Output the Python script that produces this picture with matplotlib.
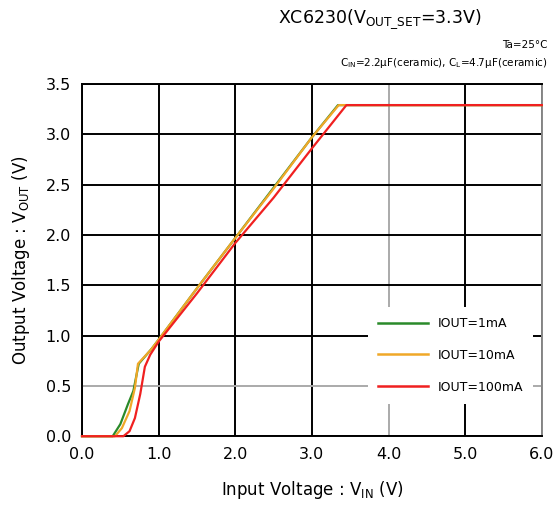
import numpy as np
import matplotlib.pyplot as plt

# measured Vout vs Vin for three load currents
vin_1mA = [0.0, 0.40, 0.50, 0.60, 0.67, 0.74, 0.91, 1.0, 1.5, 2.0, 2.5, 3.0, 3.34, 6.0]
vout_1mA = [0.0, 0.0, 0.12, 0.32, 0.45, 0.72, 0.87, 0.96, 1.47, 1.97, 2.47, 2.97, 3.29, 3.29]
vin_10mA = [0.0, 0.43, 0.52, 0.62, 0.69, 0.73, 0.90, 1.0, 1.5, 2.0, 2.5, 3.0, 3.35, 6.0]
vout_10mA = [0.0, 0.0, 0.08, 0.25, 0.48, 0.72, 0.86, 0.96, 1.47, 1.97, 2.46, 2.97, 3.29, 3.29]
vin_100mA = [0.0, 0.54, 0.62, 0.69, 0.76, 0.82, 0.89, 1.0, 1.5, 2.0, 2.5, 3.0, 3.45, 6.0]
vout_100mA = [0.0, 0.0, 0.05, 0.18, 0.42, 0.69, 0.81, 0.94, 1.42, 1.92, 2.37, 2.86, 3.29, 3.29]

labels = ['IOUT=1mA', 'IOUT=10mA', 'IOUT=100mA']
xticks = [0, 1, 2, 3, 4, 5, 6]
yticks = [0, 0.5, 1.0, 1.5, 2.0, 2.5, 3.0, 3.5]

plt.rcParams['font.family'] = ['DejaVu Sans']
fig = plt.figure(figsize=(5.58, 5.12), dpi=100)
ax = fig.add_axes([0.147, 0.148, 0.824, 0.688])

ax.plot(vin_1mA, vout_1mA, color='#2a8a2a', lw=1.6, label=labels[0], clip_on=False, zorder=4)
ax.plot(vin_10mA, vout_10mA, color='#f0a828', lw=1.6, label=labels[1], clip_on=False, zorder=4)
ax.plot(vin_100mA, vout_100mA, color='#f02020', lw=1.6, label=labels[2], clip_on=False, zorder=4)

ax.set_xlim(0, 6)
ax.set_ylim(0, 3.5)
ax.set_xticks(xticks)
ax.set_yticks(yticks)
ax.set_xticklabels(['%.1f' % v for v in xticks], fontsize=11.5)
ax.set_yticklabels(['%.1f' % v for v in yticks], fontsize=11.5)
ax.tick_params(length=0, pad=8)
ax.grid(True, color='black', lw=1.4)
ax.set_axisbelow(True)
for gl, v in zip(ax.get_xgridlines(), xticks):
    if v == 4:
        gl.set_color('#aaaaaa')
for gl, v in zip(ax.get_ygridlines(), yticks):
    if v == 0.5:
        gl.set_color('#aaaaaa')
for s in ax.spines.values():
    s.set_linewidth(1.4)
ax.spines['right'].set_color('#888888')

ax.set_xlabel('Input Voltage : V$_{\\mathregular{IN}}$ (V)', fontsize=12, labelpad=12)
ax.set_ylabel('Output Voltage : V$_{\\mathregular{OUT}}$ (V)', fontsize=12, labelpad=10)

leg = ax.legend(loc='lower right', bbox_to_anchor=(0.995, 0.075), frameon=True,
                fontsize=9, handlelength=4, labelspacing=1.5, borderpad=0.8)
leg.get_frame().set_edgecolor('none')
leg.get_frame().set_facecolor('white')
leg.get_frame().set_alpha(1)
leg.set_zorder(5)
for ln in leg.get_lines():
    ln.set_linewidth(1.8)

fig.text(0.68, 0.962, 'XC6230(V$_{\\mathregular{OUT\\_SET}}$=3.3V)', fontsize=12.5,
         ha='center', va='center')
fig.text(0.982, 0.913, 'Ta=25°C', fontsize=7.5, ha='right', va='center')
fig.text(0.982, 0.877, 'C$_{\\mathregular{IN}}$=2.2μF(ceramic), C$_{\\mathregular{L}}$=4.7μF(ceramic)',
         fontsize=7.5, ha='right', va='center')

fig.savefig('out.png', dpi=100)
